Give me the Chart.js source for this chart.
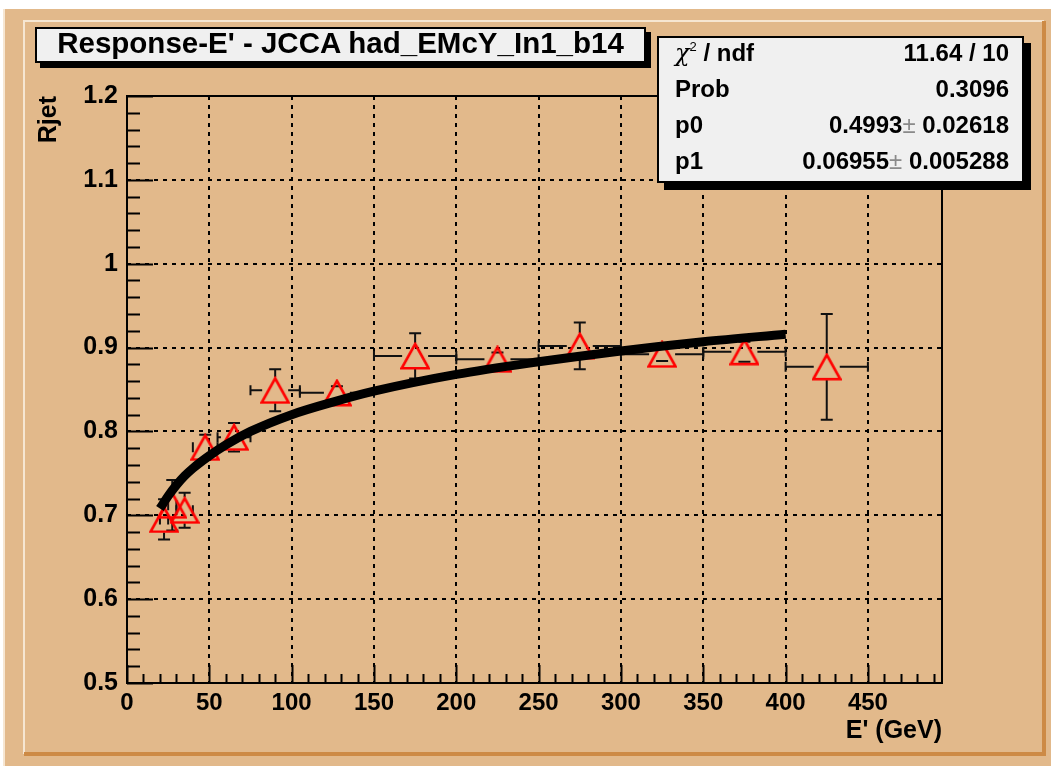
<!DOCTYPE html>
<html><head><meta charset="utf-8">
<script src="https://cdn.jsdelivr.net/npm/chart.js@4.4.1/dist/chart.umd.min.js"></script>
<style>
html,body{margin:0;padding:0;background:#fff;}
#wrap{position:relative;width:1051px;height:766px;overflow:hidden;}
#c{position:absolute;left:0;top:0;}
.box{position:absolute;background:#f0f0f0;border:2px solid #000;box-sizing:border-box;font-family:"Liberation Sans",Arial,Helvetica,sans-serif;font-weight:bold;color:#000;}
#title{left:35px;top:27px;width:611px;height:36px;box-shadow:5px 5px 0 #000;font-size:29.5px;line-height:27px;text-align:center;white-space:nowrap;}
#stats{left:657px;top:36px;width:367px;height:147px;box-shadow:7px 7px 0 #000;font-size:24px;}
.row{position:absolute;left:16px;right:13px;height:36px;line-height:36px;white-space:nowrap;}
.row .l{position:absolute;left:0;}
.row .r{position:absolute;right:0;}
.pm{color:#8a8a8a;font-weight:normal;}
.chi{font-family:"DejaVu Serif",serif;font-style:italic;font-weight:normal;}
sup{font-size:13px;vertical-align:0;position:relative;top:-10px;font-weight:normal;}
</style></head>
<body>
<div id="wrap">
<canvas id="c" width="1051" height="766"></canvas>
<div id="title" class="box">Response-E' - JCCA had_EMcY_In1_b14</div>
<div id="stats" class="box">
  <div class="row" style="top:-3px"><span class="l"><span class="chi">χ</span><sup>2</sup> / ndf</span><span class="r">11.64 / 10</span></div>
  <div class="row" style="top:33px"><span class="l">Prob</span><span class="r">0.3096</span></div>
  <div class="row" style="top:69px"><span class="l">p0</span><span class="r">0.4993<span class="pm">±</span> 0.02618</span></div>
  <div class="row" style="top:105px"><span class="l">p1</span><span class="r">0.06955<span class="pm">±</span> 0.005288</span></div>
</div>
</div>
<script>
// ---- data ----
const energy    = [22.5, 27.5, 35, 47.5, 65, 90, 127.5, 175, 225, 275, 325, 375, 425];
const energyErr = [2.5, 2.5, 5, 7.5, 10, 15, 22.5, 25, 25, 25, 25, 25, 25];
const rjet      = [0.695, 0.712, 0.706, 0.781, 0.793, 0.849, 0.846, 0.890, 0.886, 0.902, 0.892, 0.895, 0.877];
const rjetErr   = [0.024, 0.030, 0.021, 0.015, 0.017, 0.025, 0.008, 0.027, 0.008, 0.028, 0.008, 0.012, 0.063];
// fit curve
const fitE = [20, 25, 30, 35, 40, 50, 60, 75, 100, 125, 150, 200, 250, 300, 350, 400];
const fitR = [0.708, 0.723, 0.736, 0.747, 0.756, 0.771, 0.784, 0.800, 0.820, 0.835, 0.848, 0.868, 0.883, 0.896, 0.907, 0.916];
// axes
const xTicks = [0, 50, 100, 150, 200, 250, 300, 350, 400, 450];
const xTickLabels = ['0','50','100','150','200','250','300','350','400','450'];
const yTicks = [0.5, 0.6, 0.7, 0.8, 0.9, 1.0, 1.1, 1.2];
const yTickLabels = ['0.5','0.6','0.7','0.8','0.9','1','1.1','1.2'];

const FONT = '"Liberation Sans", Arial, Helvetica, sans-serif';
const TAN = '#e2b98b';

function makeTriangle(){
  const c = document.createElement('canvas'); c.width = 30; c.height = 28;
  const g = c.getContext('2d');
  g.strokeStyle = '#ff0000'; g.lineWidth = 2.6; g.lineJoin = 'miter';
  g.beginPath(); g.moveTo(15, 2); g.lineTo(28.5, 26.3); g.lineTo(1.5, 26.3); g.closePath(); g.stroke();
  return c;
}

const background = {
  id: 'background',
  beforeDraw(chart){
    const ctx = chart.ctx;
    ctx.save();
    ctx.fillStyle = '#ffffff'; ctx.fillRect(0, 0, 1051, 766);
    ctx.fillStyle = TAN; ctx.fillRect(3, 9, 1048, 757);
    ctx.fillStyle = '#f6e6d2';
    ctx.fillRect(3, 9, 2, 757);
    ctx.fillRect(23, 20, 1021, 2);
    ctx.fillRect(23, 20, 2, 734);
    ctx.fillStyle = '#cd8a45';
    ctx.fillRect(1042, 21, 4, 735);
    ctx.fillRect(24, 752, 1022, 4);
    ctx.restore();
  }
};

const errorBars = {
  id: 'errorBars',
  beforeDatasetsDraw(chart){
    const {ctx, chartArea, scales: {x, y}} = chart;
    ctx.save();
    // frame
    ctx.strokeStyle = '#000'; ctx.lineWidth = 2;
    ctx.strokeRect(chartArea.left, chartArea.top, chartArea.right - chartArea.left, chartArea.bottom - chartArea.top);
    // inward ticks
    ctx.beginPath();
    for (let v = 0; v <= 495; v += 10) {
      const px = Math.round(x.getPixelForValue(v)) + 0.5;
      const len = (v % 50 === 0) ? 18 : 9;
      ctx.moveTo(px, chartArea.bottom); ctx.lineTo(px, chartArea.bottom - len);
    }
    for (let k = 0; k <= 35; k++) {
      const v = 0.5 + k * 0.02;
      const py = Math.round(y.getPixelForValue(v)) + 0.5;
      const len = (k % 5 === 0) ? 26 : 13;
      ctx.moveTo(chartArea.left, py); ctx.lineTo(chartArea.left + len, py);
    }
    ctx.lineWidth = 2; ctx.stroke();
    // error bars
    ctx.strokeStyle = '#111'; ctx.lineWidth = 2;
    const gap = 13, cap = 6, tk = 5;
    energy.forEach((e, i) => {
      const px = x.getPixelForValue(e), py = y.getPixelForValue(rjet[i]);
      const xl = x.getPixelForValue(e - energyErr[i]), xr = x.getPixelForValue(e + energyErr[i]);
      const yt = y.getPixelForValue(rjet[i] + rjetErr[i]), yb = y.getPixelForValue(rjet[i] - rjetErr[i]);
      ctx.beginPath();
      if (px - xl > gap) { ctx.moveTo(xl, py); ctx.lineTo(px - gap, py); ctx.moveTo(px + gap, py); ctx.lineTo(xr, py); }
      if (py - yt > gap) { ctx.moveTo(px, yt); ctx.lineTo(px, py - gap); ctx.moveTo(px, py + gap); ctx.lineTo(px, yb); }
      ctx.moveTo(px - cap, yt); ctx.lineTo(px + cap, yt);
      ctx.moveTo(px - cap, yb); ctx.lineTo(px + cap, yb);
      ctx.moveTo(xl, py - tk); ctx.lineTo(xl, py + tk);
      ctx.moveTo(xr, py - tk); ctx.lineTo(xr, py + tk);
      ctx.stroke();
    });
    ctx.restore();
  }
};

new Chart(document.getElementById('c'), {
  type: 'scatter',
  data: {
    datasets: [
      {
        type: 'line',
        label: 'fit',
        data: fitE.map((e, i) => ({x: e, y: fitR[i]})),
        borderColor: '#000', borderWidth: 9, pointRadius: 0,
        cubicInterpolationMode: 'monotone', fill: false, order: 0
      },
      {
        type: 'scatter',
        label: 'Rjet',
        data: energy.map((e, i) => ({x: e, y: rjet[i]})),
        pointStyle: makeTriangle(), pointRadius: 14, order: 1
      }
    ]
  },
  options: {
    responsive: false, animation: false, devicePixelRatio: 1,
    layout: { padding: { left: 0, top: 96, right: 109, bottom: 0 } },
    plugins: { legend: { display: false }, tooltip: { enabled: false } },
    scales: {
      x: {
        type: 'linear', min: 0, max: 495,
        afterBuildTicks: s => { s.ticks = xTicks.map(v => ({value: v})); },
        afterFit: s => { s.height = 83; },
        ticks: { callback: (v, i) => xTickLabels[i], color: '#000', padding: 6, maxRotation: 0, autoSkip: false,
                 font: { family: FONT, size: 24, weight: 'bold' } },
        grid: { color: '#000', lineWidth: 2, drawTicks: false },
        border: { display: false, dash: [4, 5] },
        title: { display: true, text: "E' (GeV)", align: 'end', color: '#000',
                 font: { family: FONT, size: 25, weight: 'bold' }, padding: { top: 0, bottom: 20 } }
      },
      y: {
        type: 'linear', min: 0.5, max: 1.2,
        afterBuildTicks: s => { s.ticks = yTicks.map(v => ({value: v})); },
        afterFit: s => { s.width = 127; },
        ticks: { callback: (v, i) => yTickLabels[i], color: '#000', padding: 9, autoSkip: false,
                 font: { family: FONT, size: 25, weight: 'bold' } },
        grid: { color: '#000', lineWidth: 2, drawTicks: false },
        border: { display: false, dash: [4, 5] },
        title: { display: true, text: 'Rjet', align: 'end', color: '#000',
                 font: { family: FONT, size: 25, weight: 'bold' }, padding: { top: 34, bottom: 0 } }
      }
    }
  },
  plugins: [background, errorBars]
});
</script>
</body></html>
